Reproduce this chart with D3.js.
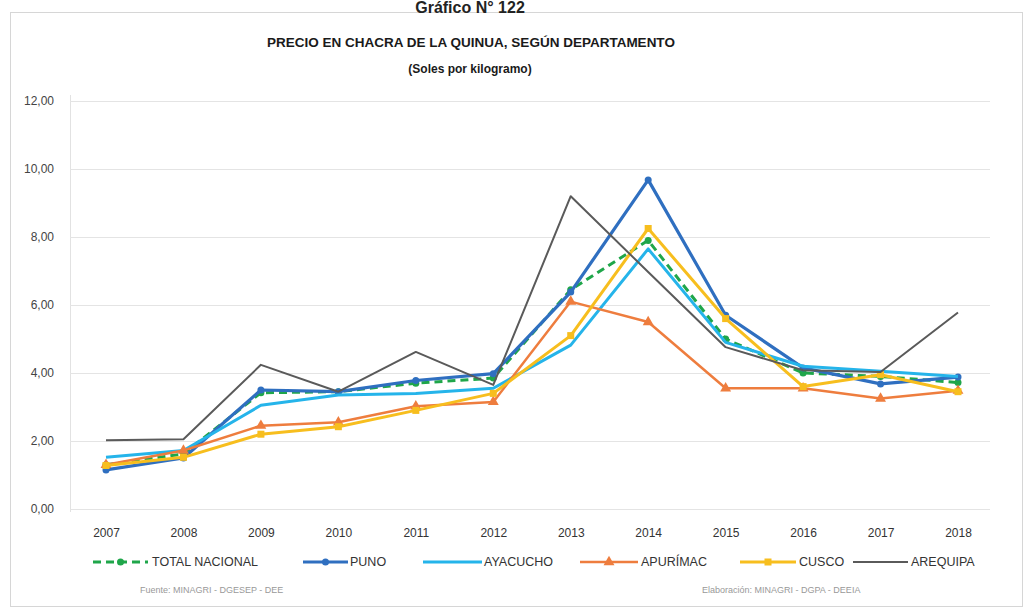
<!DOCTYPE html>
<html><head><meta charset="utf-8">
<script src="https://cdn.jsdelivr.net/npm/d3@7"></script>
<style>
html,body{margin:0;padding:0;background:#fff;}
svg{display:block;font-family:"Liberation Sans Narrow","Liberation Sans",Arial,sans-serif;}
</style></head>
<body>
<svg id="c" width="1032" height="611"></svg>
<script>
const years = ["2007","2008","2009","2010","2011","2012","2013","2014","2015","2016","2017","2018"];
const yTicks = [0,2,4,6,8,10,12];
const totalNacional = [1.30,1.62,3.42,3.45,3.70,3.85,6.45,7.90,5.00,4.00,3.90,3.72];
const puno          = [1.15,1.50,3.50,3.45,3.78,3.98,6.38,9.68,5.70,4.15,3.68,3.88];
const ayacucho      = [1.52,1.72,3.05,3.35,3.40,3.55,4.82,7.65,4.90,4.20,4.05,3.90];
const apurimac      = [1.30,1.72,2.45,2.55,3.02,3.15,6.10,5.50,3.55,3.55,3.25,3.48];
const cusco         = [1.28,1.52,2.20,2.42,2.90,3.40,5.10,8.25,5.60,3.60,3.95,3.45];
const arequipa      = [2.02,2.05,4.24,3.45,4.62,3.65,9.20,6.97,4.76,4.08,4.03,5.78];
const seriesNames = ["TOTAL NACIONAL","PUNO","AYACUCHO","APURÍMAC","CUSCO","AREQUIPA"];

const series = [
  {name:seriesNames[0], values:totalNacional, color:"#1fa64a", width:3, dash:"8,5", marker:"circle"},
  {name:seriesNames[1], values:puno, color:"#2f6fc0", width:3.2, dash:null, marker:"circle"},
  {name:seriesNames[2], values:ayacucho, color:"#25b4ea", width:3, dash:null, marker:null},
  {name:seriesNames[3], values:apurimac, color:"#ee7d3e", width:2.5, dash:null, marker:"triangle"},
  {name:seriesNames[4], values:cusco, color:"#f7be1e", width:3, dash:null, marker:"square"},
  {name:seriesNames[5], values:arequipa, color:"#5a5a5a", width:2, dash:null, marker:null}
];

const svg = d3.select("#c");

// outer frame
svg.append("rect").attr("x",10.5).attr("y",12.5).attr("width",1012).attr("height",594)
  .attr("fill","none").attr("stroke","#d6d6d6").attr("stroke-width",1);

// heading (partially hidden behind top in the reference)
svg.append("text").attr("x",470).attr("y",13).attr("text-anchor","middle")
  .attr("font-size",16).attr("font-weight","bold").attr("fill","#222")
  .attr("font-family","Liberation Sans, Arial, sans-serif").text("Gráfico N° 122");

svg.append("text").attr("x",471).attr("y",47).attr("text-anchor","middle")
  .attr("font-size",13.5).attr("font-weight","bold").attr("fill","#1a1a1a")
  .attr("font-family","Liberation Sans, Arial, sans-serif")
  .text("PRECIO EN CHACRA DE LA QUINUA, SEGÚN DEPARTAMENTO");
svg.append("text").attr("x",470).attr("y",73).attr("text-anchor","middle")
  .attr("font-size",12).attr("font-weight","bold").attr("fill","#1a1a1a")
  .attr("font-family","Liberation Sans, Arial, sans-serif")
  .text("(Soles por kilogramo)");

const x = d3.scalePoint().domain(years).range([106,958]);
const y = d3.scaleLinear().domain([0,12]).range([509,101]);

// plot area left line
svg.append("line").attr("x1",70.5).attr("x2",70.5).attr("y1",95).attr("y2",512)
  .attr("stroke","#e2e2e2");

// gridlines via axis
const yAxis = d3.axisLeft(y).tickValues(yTicks).tickSize(-(990-70))
  .tickFormat(d => d3.format(".2f")(d).replace(".",","));
const gy = svg.append("g").attr("transform","translate(70,0)").call(yAxis);
gy.select(".domain").remove();
gy.selectAll(".tick line").attr("stroke","#e4e4e4").attr("stroke-width",1.2);
gy.selectAll(".tick text").attr("x",-16).attr("font-size",12).attr("fill","#444");

const xAxis = d3.axisBottom(x).tickSize(0).tickPadding(0);
const gx = svg.append("g").attr("transform","translate(0,528)").call(xAxis);
gx.select(".domain").remove();
gx.selectAll(".tick text").attr("font-size",12).attr("fill","#333").attr("dy","0.71em");

const line = d3.line().x((d,i)=>x(years[i])).y(d=>y(d));

function drawMarker(g, type, cx, cy, color, s){
  if(type==="circle"){
    g.append("circle").attr("cx",cx).attr("cy",cy).attr("r",s).attr("fill",color);
  } else if(type==="square"){
    g.append("rect").attr("x",cx-s).attr("y",cy-s).attr("width",2*s).attr("height",2*s).attr("fill",color);
  } else if(type==="triangle"){
    const p = d3.symbol().type(d3.symbolTriangle).size(s*s*4.2);
    g.append("path").attr("d",p()).attr("transform",`translate(${cx},${cy})`).attr("fill",color);
  }
}

series.forEach(s=>{
  const g = svg.append("g");
  g.append("path").datum(s.values).attr("d",line).attr("fill","none")
    .attr("stroke",s.color).attr("stroke-width",s.width)
    .attr("stroke-dasharray",s.dash).attr("stroke-linejoin","round");
  if(s.marker){
    s.values.forEach((v,i)=>drawMarker(g,s.marker,x(years[i]),y(v),s.color,3.5));
  }
});

// legend
const legendItems = [
  {s:series[0], x0:93, x1:148, tx:152},
  {s:series[1], x0:303, x1:348, tx:350},
  {s:series[2], x0:423, x1:482, tx:484},
  {s:series[3], x0:580, x1:638, tx:641},
  {s:series[4], x0:740, x1:796, tx:799},
  {s:series[5], x0:853, x1:908, tx:911}
];
const ly = 562;
legendItems.forEach(it=>{
  const g = svg.append("g");
  g.append("line").attr("x1",it.x0).attr("x2",it.x1).attr("y1",ly).attr("y2",ly)
    .attr("stroke",it.s.color).attr("stroke-width",it.s.width)
    .attr("stroke-dasharray",it.s.dash);
  if(it.s.marker) drawMarker(g,it.s.marker,(it.x0+it.x1)/2,ly,it.s.color,3.5);
  g.append("text").attr("x",it.tx).attr("y",ly).attr("dy","0.35em")
    .attr("font-size",12.5).attr("fill","#333").text(it.s.name);
});

// footer
svg.append("text").attr("x",140).attr("y",593).attr("font-size",9).attr("fill","#999")
  .text("Fuente: MINAGRI - DGESEP - DEE");
svg.append("text").attr("x",702).attr("y",593).attr("font-size",9).attr("fill","#999")
  .text("Elaboración: MINAGRI - DGPA - DEEIA");
</script>
</body></html>
